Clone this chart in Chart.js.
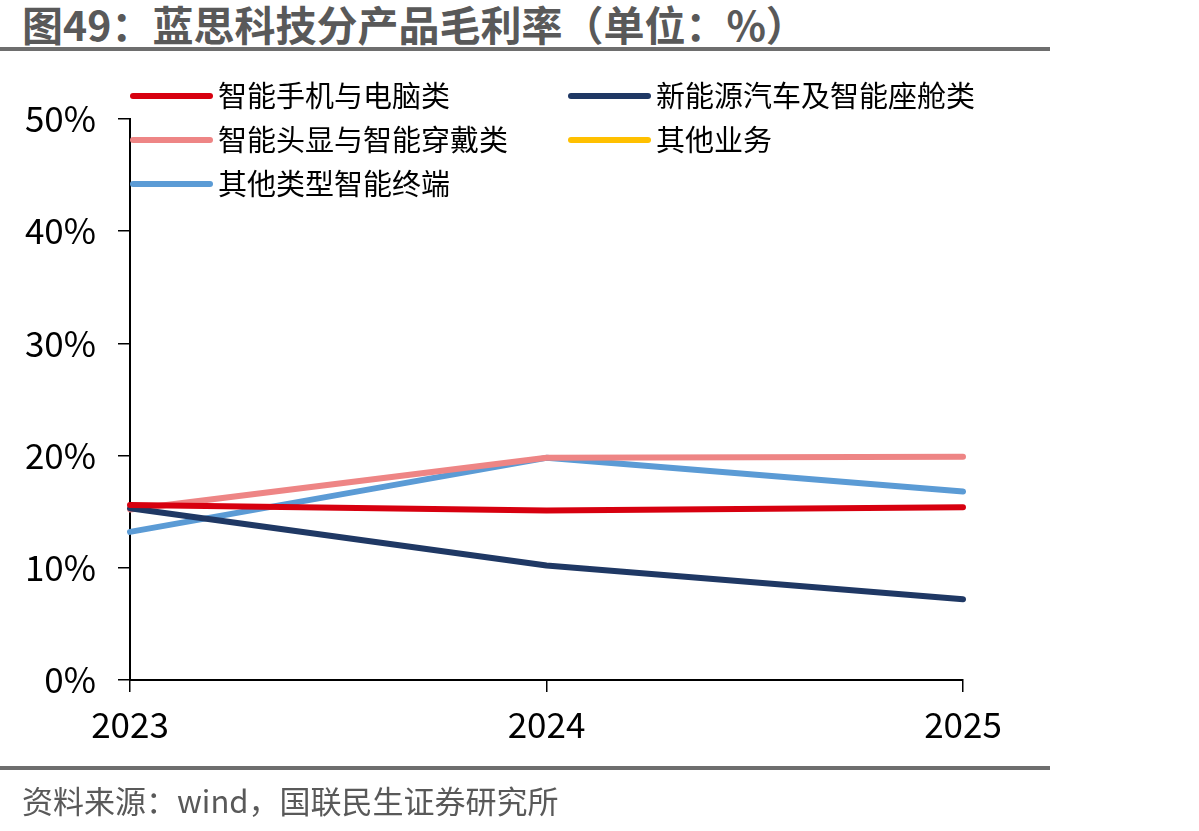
<!DOCTYPE html>
<html>
<head>
  <title>蓝思科技分产品毛利率</title>
  <script src="https://cdn.jsdelivr.net/npm/chart.js@4/dist/chart.umd.min.js"></script>
  <style>
    html, body {
      margin: 0;
      padding: 0;
      background: #fff;
    }
    #wrap {
      position: relative;
      width: 1199px;
      height: 831px;
      overflow: hidden;
    }
    #myChart {
      position: absolute;
      left: 0;
      top: 0;
    }
    .title {
      position: absolute;
      left: 22px;
      top: -2px;
      font-family: "Noto Sans CJK SC", sans-serif;
      font-weight: bold;
      font-size: 41px;
      line-height: 50px;
      color: #595959;
      white-space: nowrap;
    }
    .rule {
      position: absolute;
      left: 0;
      width: 1050px;
      height: 4px;
      background: #6e6e6e;
    }
    .source {
      position: absolute;
      left: 22px;
      top: 779px;
      font-family: "Noto Sans CJK SC", sans-serif;
      font-size: 31px;
      line-height: 42px;
      color: #595959;
      white-space: nowrap;
    }
  </style>
</head>
<body>
  <div id="wrap">
    <div class="title">图49：蓝思科技分产品毛利率（单位：%）</div>
    <div class="rule" style="top:47px"></div>
    <canvas id="myChart" width="1199" height="831"></canvas>
    <div class="rule" style="top:766px"></div>
    <div class="source">资料来源：wind，国联民生证券研究所</div>
  </div>
  <script>
    // 数据
    var years = ['2023', '2024', '2025'];
    var phonePc = [15.6, 15.1, 15.4];
    var carCabin = [15.3, 10.2, 7.2];
    var headWear = [15.2, 19.8, 19.9];
    var otherBiz = [null, null, null];
    var otherTerm = [13.2, 19.8, 16.8];
    var yTicks = [0, 10, 20, 30, 40, 50];

    var names = ['智能手机与电脑类', '新能源汽车及智能座舱类', '智能头显与智能穿戴类', '其他业务', '其他类型智能终端'];
    var colors = ['#D7000F', '#1F3864', '#EE8585', '#FFC000', '#5B9BD5'];
    var series = [phonePc, carCabin, headWear, otherBiz, otherTerm];

    var fontFamily = '"Noto Sans CJK SC", "Noto Sans", sans-serif';

    var datasets = series.map(function(s, i) {
      return {
        label: names[i],
        data: s,
        borderColor: colors[i],
        backgroundColor: colors[i],
        borderWidth: 6,
        borderCapStyle: 'round',
        borderJoinStyle: 'round',
        pointRadius: 0,
        pointHoverRadius: 0,
        tension: 0,
        fill: false
      };
    });

    // 图例 (画在绘图区内，两列)
    var legendPlugin = {
      id: 'insideLegend',
      afterDraw: function(chart) {
        var ctx = chart.ctx;
        ctx.save();
        ctx.font = '29px ' + fontFamily;
        ctx.textBaseline = 'middle';
        ctx.textAlign = 'left';
        chart.data.datasets.forEach(function(ds, i) {
          var col = i % 2;
          var row = Math.floor(i / 2);
          var x0 = col ? 568 : 130;
          var y = 96 + row * 44;
          ctx.strokeStyle = ds.borderColor;
          ctx.lineWidth = 6;
          ctx.lineCap = 'round';
          ctx.beginPath();
          ctx.moveTo(x0 + 3, y);
          ctx.lineTo(x0 + 80, y);
          ctx.stroke();
          ctx.fillStyle = '#000';
          ctx.fillText(ds.label, x0 + 88, y);
        });
        ctx.restore();
      }
    };

    var ctx = document.getElementById('myChart').getContext('2d');
    var myChart = new Chart(ctx, {
      type: 'line',
      data: {
        labels: years,
        datasets: datasets
      },
      options: {
        responsive: false,
        animation: false,
        layout: {
          padding: { left: 0, top: 119, right: 236, bottom: 0 }
        },
        plugins: {
          legend: { display: false },
          tooltip: { enabled: false }
        },
        scales: {
          x: {
            offset: false,
            grid: {
              display: true,
              drawOnChartArea: false,
              drawTicks: true,
              tickLength: 12,
              color: '#000',
              lineWidth: 1.5
            },
            border: { display: true, color: '#000', width: 2 },
            ticks: {
              color: '#000',
              padding: 12,
              maxRotation: 0,
              font: { family: fontFamily, size: 35 }
            },
            afterFit: function(scale) { scale.height = 151; }
          },
          y: {
            min: 0,
            max: 50,
            afterBuildTicks: function(scale) {
              scale.ticks = yTicks.map(function(v) { return { value: v }; });
            },
            grid: {
              display: true,
              drawOnChartArea: false,
              drawTicks: true,
              tickLength: 12,
              color: '#000',
              lineWidth: 1.5
            },
            border: { display: true, color: '#000', width: 2 },
            ticks: {
              color: '#000',
              padding: 22,
              font: { family: fontFamily, size: 35 },
              callback: function(v) { return v + '%'; }
            },
            afterFit: function(scale) { scale.width = 130; }
          }
        }
      },
      plugins: [legendPlugin]
    });
  </script>
</body>
</html>
